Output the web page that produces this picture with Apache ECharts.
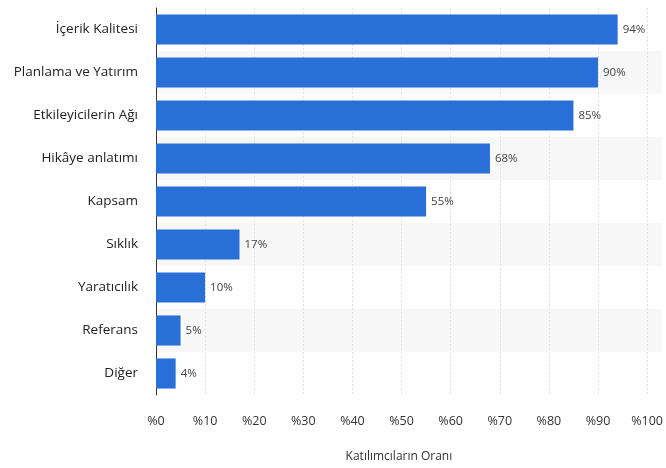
<!DOCTYPE html>
<html>
<head>
<meta charset="utf-8">
<script src="https://cdn.jsdelivr.net/npm/echarts@6/dist/echarts.min.js"></script>
<style>
  html, body { margin: 0; padding: 0; background: #fff; }
  #chart { width: 666px; height: 468px; }
</style>
</head>
<body>
<div id="chart"></div>
<script>
// categories top to bottom
const categories = ['İçerik Kalitesi', 'Planlama ve Yatırım', 'Etkileyicilerin Ağı', 'Hikâye anlatımı',
  'Kapsam', 'Sıklık', 'Yaratıcılık', 'Referans', 'Diğer'];
const shares = [94, 90, 85, 68, 55, 17, 10, 5, 4];
const axisTitle = 'Katılımcıların Oranı';

const chart = echarts.init(document.getElementById('chart'));
const fontFamily = '"Open Sans", "Noto Sans", sans-serif';

chart.setOption({
  animation: false,
  textStyle: { fontFamily: fontFamily },
  grid: { left: 156, right: 0, top: 8, bottom: 61, containLabel: false },
  xAxis: {
    type: 'value',
    min: 0,
    max: 103,
    interval: 10,
    name: axisTitle,
    nameLocation: 'middle',
    nameGap: 56,
    nameTextStyle: { color: '#333', fontSize: 12, fontFamily: fontFamily, padding: [0, 20, 0, 0] },
    axisLine: { show: false },
    axisTick: { show: false },
    axisLabel: {
      color: '#333', fontSize: 12.5, margin: 20, showMaxLabel: false,
      formatter: v => '%' + v
    },
    splitLine: { show: true, showMaxLine: false, lineStyle: { color: '#e2e2e2', type: [2, 2], width: 1 } }
  },
  yAxis: {
    type: 'category',
    data: categories,
    inverse: true,
    axisLine: { show: true, lineStyle: { color: '#333', width: 1 } },
    axisTick: { show: false },
    axisLabel: { color: '#222', fontSize: 13.5, margin: 18 },
    splitArea: { show: true, areaStyle: { color: ['rgba(255,255,255,0)', '#f7f7f7'] } }
  },
  series: [{
    type: 'bar',
    data: shares,
    barWidth: '70%',
    itemStyle: { color: '#2870d8' },
    label: {
      show: true,
      position: 'right',
      distance: 5,
      color: '#444',
      fontSize: 11.5,
      formatter: p => p.value + '%'
    }
  }]
});
</script>
</body>
</html>
